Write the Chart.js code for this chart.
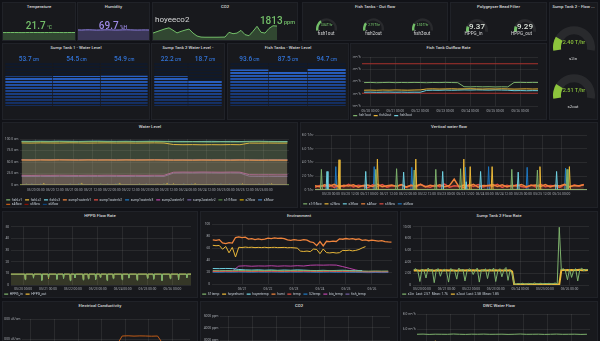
<!DOCTYPE html>
<html><head><meta charset="utf-8">
<script src="https://cdn.jsdelivr.net/npm/chart.js@4.4.1/dist/chart.umd.min.js"></script>
<style>
html,body{margin:0;padding:0;}
body{position:relative;width:600px;height:341px;overflow:hidden;background:#111217;font-family:Roboto,"Noto Sans",Arial,sans-serif;}
.p{position:absolute;background:#18191d;border:1px solid #202228;box-sizing:border-box;}
.t{position:absolute;text-align:center;color:#d8d9da;font-size:4.3px;font-weight:500;white-space:nowrap;line-height:6px;height:6px;overflow:hidden;}
.x{position:absolute;white-space:nowrap;text-align:center;}
canvas{position:absolute;}
</style></head><body>
<script>
function steps(a,d,n){const r=[];for(let i=0;i<n;i++)r.push(a+d*i);return r;}

// ---------------- DATA ----------------
// stat panels
const tempNow='21.7', humNow='69.7', co2Now='1813', co2Name='hoyeeco2';
const tempSpark=[21.5,21.6,21.6,21.7,21.5,21.4,21.6,21.8,21.7,21.6,21.5,21.6,21.7,21.9,21.8,21.6,21.5,21.6,21.7,21.7];
const humSpark=[70.2,69.5,70.8,71.0,70.1,69.2,69.8,70.5,71.2,70.4,69.6,69.9,70.7,71.3,70.6,69.8,69.4,70.0,70.3,69.7];
const co2Spark=[905,1090,1270,1450,1580,1270,920,1120,1280,1420,900,520,380,360,360,360,360,370,380,1000,820,900,1250,700,560,1130,1780,1000,900,1500,1850,1813];
// gauges
const fishOutNames=['fish1out','fish2out','fish3out'], fishOutVals=[3.84,2.79,2.50], fishOutMax=12;
const hppgNames=['HPPG_in','HPPG_out'], hppgVals=[9.37,9.29], hppgMax=60;
const s2Names=['s2in','s2out'], s2Vals=[2.40,2.51], s2Max=12;
// bar gauges
const sump1Names=['sump1waterlv1','sump1waterlv2','sump1waterlv3'], sump1Vals=[53.7,54.5,54.9], sump1Max=78;
const sump2Names=['sump2waterlv1','sump2waterlv2'], sump2Vals=[22.2,18.7], sump2Max=32;
const fishLvNames=['fishLv1','fishLv2','fishLv3'], fishLvVals=[93.6,87.5,94.7], fishLvMax=110;

// Water level (hours from 05/20 00:00)
const wlT=steps(-9,6,29);
const fishLv1=[94.2,94.0,94.3,94.1,94.4,94.2,94.0,94.3,94.5,94.2,94.1,94.3,94.0,94.2,94.4,94.1,93.8,93.6,93.9,93.7,93.5,93.8,93.6,93.7,94.1,94.3,94.0,93.8,93.6];
const fishLv2=[91.5,91.2,91.6,91.4,91.3,91.7,91.5,91.2,91.4,91.6,91.3,91.5,91.2,91.4,91.6,91.3,88.0,87.6,87.8,87.4,87.7,87.5,87.9,87.6,91.2,91.0,91.3,91.1,91.2];
const fishLv3=[95.0,94.8,95.1,94.9,95.2,95.0,94.8,95.1,95.3,95.0,94.9,95.1,94.8,95.0,95.2,94.9,94.6,94.8,94.5,94.7,94.9,94.6,94.8,94.5,94.9,95.1,94.8,94.6,94.7];
const sump1lv1=[54.2,54.0,54.3,54.1,54.4,54.2,54.0,54.3,54.1,54.2,54.0,54.3,54.1,54.2,54.4,54.1,53.9,54.0,53.8,54.1,53.9,54.0,53.8,54.1,53.9,53.7,53.9,53.8,53.7];
const sump1lv2=[54.8,54.6,54.9,54.7,55.0,54.8,54.6,54.9,54.7,54.8,54.6,54.9,54.7,54.8,55.0,54.7,54.5,54.6,54.4,54.7,54.5,54.6,54.4,54.7,54.5,54.3,54.5,54.6,54.5];
const sump1lv3=[55.2,55.0,55.3,55.1,55.4,55.2,55.0,55.3,55.1,55.2,55.0,55.3,55.1,55.2,55.4,55.1,54.9,55.0,54.8,55.1,54.9,55.0,54.8,55.1,54.9,54.7,54.9,55.0,54.9];
const sump2lv1=[21.0,20.8,21.1,20.9,21.2,21.0,20.8,21.1,20.9,21.2,21.0,20.8,21.1,20.9,21.2,21.0,27.8,28.1,27.9,28.2,28.0,27.8,28.1,27.9,22.4,22.1,22.3,22.0,22.2];
const sump2lv2=[18.6,18.4,18.7,18.5,18.8,18.6,18.4,18.7,18.5,18.8,18.6,18.4,18.7,18.5,18.8,18.6,25.9,26.2,26.0,26.3,26.1,25.9,26.2,26.0,18.9,18.6,18.8,18.5,18.7];

// Vertical water flow (pump pulses)
const s1f1T=[-10,-6.6,-6,-5.4,27.4,28,28.6,40.4,41,41.6,51.4,52,52.6,64.9,65.5,66.1,80.4,81,81.6,112.4,113,113.6,128.4,129,129.6,146.9,147.5,148.1,160];
const s1f1V=[0,0,3.0,0,0,3.0,0,0,3.1,0,0,2.9,0,0,3.0,0,0,3.1,0,0,3.0,0,0,2.9,0,0,3.0,0,0];
const s2fT=[-10,4.4,5,5.6,28.4,29,29.6,52.4,53,53.6,82.4,83,83.6,86.4,87,87.6,100.1,100.7,101.3,130,130.6,131.2,148.4,149,149.6,160];
const s2fV=[0,0,4.4,0,0,4.5,0,0,4.5,0,0,4.5,0,0,3.4,0,0,3.4,0,0,3.4,0,0,3.4,0,0];
const s3fT=[-10,-3.1,-2.5,-1.9,21.1,21.7,22.3,44.8,45.4,46,69.2,69.8,70.4,83.9,84.5,85.1,92.9,93.5,94.1,116.4,117,117.6,140.4,141,141.6,160];
const s3fV=[0,0,2.7,0,0,2.7,0,0,2.6,0,0,2.7,0,0,1.2,0,0,2.7,0,0,2.6,0,0,2.7,0,0];
const s6fT=[-10,2.4,3,3.6,26.4,27,27.6,49.9,50.5,51.1,83.4,84,84.6,97.9,98.5,99.1,122,122.6,123.2,146,146.6,147.2,160];
const s6fV=[0,0,3.4,0,0,3.4,0,0,3.3,0,0,3.3,0,0,3.4,0,0,3.3,0,0,3.2,0,0];
const s45T=steps(-10,3,57);
const s4flow=[0.62,0.48,0.75,0.55,0.81,0.44,0.69,0.58,0.77,0.41,0.66,0.73,0.52,0.84,0.47,0.63,0.71,0.50,0.79,0.45,0.68,0.60,0.82,0.43,0.70,0.55,0.76,0.49,0.64,1.60,0.46,0.72,0.57,0.83,0.42,0.67,0.61,0.78,0.50,0.74,0.44,0.69,0.59,0.81,0.47,0.65,0.72,0.53,0.79,0.45,0.70,0.58,0.84,0.48,0.66,0.62,0.75];
const s5flow=[0.41,0.66,0.52,0.78,0.38,0.71,0.49,0.83,0.44,0.68,0.57,0.35,0.74,0.51,0.80,0.40,0.63,0.55,0.77,0.37,0.69,0.46,0.81,0.53,0.39,0.72,0.48,0.85,0.42,0.61,0.56,0.36,0.75,0.50,0.79,0.43,0.67,0.54,0.82,0.38,0.70,0.47,0.76,0.52,0.40,0.73,0.45,0.84,0.49,0.64,0.58,0.37,0.78,0.44,0.71,0.55,0.80];

// Fish tank outflow rate
const foT=steps(-6,6,29);
const fish1out=[3.82,3.85,3.80,3.83,3.86,3.81,3.84,3.82,3.85,3.83,3.80,3.84,3.82,3.86,3.83,3.81,3.15,3.12,3.16,3.13,3.15,3.11,3.14,3.12,3.84,3.86,3.83,3.85,3.84];
const fish2out=[2.58,2.60,2.57,2.61,2.59,2.62,2.60,2.58,2.61,2.63,2.78,2.80,2.77,2.79,2.81,2.78,2.80,2.82,2.79,2.77,2.80,2.78,2.81,2.79,2.76,2.78,2.80,2.77,2.79];
const fish3out=[2.25,2.27,2.24,2.26,2.28,2.25,2.27,2.24,2.26,2.25,2.55,2.58,2.56,2.60,2.57,2.59,2.62,2.60,2.63,2.61,2.59,2.62,2.60,2.58,2.50,2.52,2.49,2.51,2.50];
const outflowHigh=6.9, outflowLow=2.08;

// HPPG flow rate (steady flow with short dips)
const hpT=[-12,1.5,2,2.5,9.5,10,10.5,17.5,18,18.5,24,24.5,25,32,32.6,33.2,38.5,39,39.5,45,45.5,46,49.5,50,50.5,57.5,58,58.5,62.5,63,63.5,69.5,70,70.5,74,74.5,75,80.5,81,81.5,86.5,87,87.5,95,95.5,96,101.5,102,102.5,109.5,110,110.5,119.5,120,120.5,125.5,126,126.5,133.5,134,134.5,141.5,142,142.5,149.5,150,150.5,157.5,158,158.5,162];
const hppgIn=[9.3,9.3,4.5,9.3,9.3,5.8,9.3,9.3,3.9,9.3,9.3,6.2,9.3,9.3,4.8,9.3,9.3,5.5,9.3,9.3,3.6,9.3,9.3,6.0,9.3,9.3,4.2,9.3,9.3,5.1,9.3,9.3,4.6,9.3,9.3,6.4,9.3,9.3,3.8,9.3,9.3,5.3,9.3,9.3,4.4,9.3,9.3,5.9,9.3,9.3,4.1,9.3,9.3,5.6,9.3,9.3,4.9,9.3,9.3,3.7,9.3,9.3,5.2,9.3,9.3,4.5,9.3,9.3,6.1,9.3,9.37];
const hppgOut=[9.29,9.29,5.0,9.29,9.29,6.3,9.29,9.29,4.6,9.29,9.29,5.7,9.29,9.29,5.4,9.29,9.29,6.1,9.29,9.29,4.3,9.29,9.29,6.6,9.29,9.29,5.0,9.29,9.29,5.8,9.29,9.29,5.2,9.29,9.29,6.8,9.29,9.29,4.5,9.29,9.29,6.0,9.29,9.29,5.1,9.29,9.29,6.4,9.29,9.29,4.8,9.29,9.29,6.2,9.29,9.29,5.6,9.29,9.29,4.4,9.29,9.29,5.9,9.29,9.29,5.2,9.29,9.29,6.7,9.29,9.29];

// Environment
const envT3=steps(-3,3,56), envT6=steps(-3,6,28);
const humi=[73.5,72.8,73.9,68.5,67.2,69.0,68.1,77.5,78.6,77.2,78.0,74.8,75.6,74.1,75.2,73.9,74.7,76.3,75.5,76.8,75.9,76.5,75.7,73.4,72.8,73.9,73.1,72.6,73.8,73.0,70.4,69.2,64.0,70.8,63.5,71.2,70.5,71.6,70.9,75.3,74.6,75.8,74.9,75.5,74.2,75.1,72.7,73.4,72.1,73.0,72.4,71.5,72.2,70.8,70.1,69.8];
const hoyeehumi=[64.5,63.8,64.2,58.0,62.5,52.0,61.0,45.0,61.2,60.8,61.5,60.9,61.3,60.6,61.0,60.7,61.2,60.5,60.9,61.1,60.6,60.8,61.0,60.4,60.7,60.3,59.8,54.8,54.2,54.9,54.0,58.2,57.6,50.5,58.4,52.3,51.8,52.5,51.6,52.2,56.1,55.6,56.4,55.2,56.0,57.5,60.2,62.3];
const s1temp=[22.3,22.1,22.4,22.2,22.5,22.3,22.1,22.4,22.2,22.6,22.3,22.1,22.4,22.2,22.5,22.3,22.0,22.2,22.4,22.1,22.3,22.0,21.8,21.6,21.4,21.7,21.5,21.6];
const hoyeetemp=[25.8,25.6,25.9,25.7,24.2,23.5,23.2,23.6,23.0,23.4,22.8,23.3,22.9,23.5,23.1,22.6,22.4,22.8,22.3,22.6,22.9,22.5,22.2,22.4];
const tempC=[21.0,20.9,21.1,21.0,21.2,21.0,20.8,21.1,20.9,21.2,21.0,20.8,21.1,20.9,21.2,21.0,20.7,20.9,21.1,20.8,21.0,20.7,20.5,20.3,20.1,20.4,20.2,20.3];
const s2temp=[19.8,19.6,19.9,19.7,20.0,19.8,19.6,19.9,19.7,20.0,19.8,19.6,19.9,19.7,20.0,19.8,19.5,19.7,19.9,19.6,19.8,19.5,19.3,19.1,18.9,19.2,19.0,19.1];
const bioTemp=[21.6,21.4,21.7,21.5,29.8,30.3,29.6,30.1,29.9,30.4,29.7,30.2,29.8,30.5,30.0,31.3,31.6,31.4,31.7,31.5,29.0,26.2,23.4,21.0,20.4,20.6,20.3,20.5];
const fishTemp=[20.4,20.3,20.5,20.4,20.6,20.4,20.3,20.5,20.4,20.6,20.4,20.3,20.5,20.4,20.6,20.4,20.2,20.4,20.5,20.3,20.4,20.2,20.0,19.9,19.8,20.0,19.9,20.0];

// Sump tank 2 flow rate
const sfT=steps(-8,2,86);
const s2in=[2.6,2.8,2.4,0.6,2.7,2.5,1.2,2.9,2.4,2.7,0.4,2.6,2.8,1.5,2.5,2.7,2.3,0.5,2.8,2.6,2.4,1.0,2.9,2.5,2.7,0.7,2.4,2.8,2.6,1.8,2.5,2.9,0.5,2.6,2.4,2.8,1.1,2.7,2.5,2.9,0.6,2.4,2.8,1.4,2.6,3.0,0.8,2.5,1.9,0.2,0.15,0.25,0.18,0.3,0.2,0.15,0.28,0.2,0.22,0.35,0.18,0.25,0.3,0.2,0.27,0.22,0.3,0.18,0.25,0.33,0.2,9.9,2.6,2.8,2.4,0.9,2.7,1.3,2.5,2.8,0.7,2.6,2.9,2.4,2.7,2.57];
const s2out=[2.48,2.52,2.5,2.46,2.53,2.49,2.51,2.47,2.52,2.5,2.46,2.51,2.49,2.53,2.48,2.5,2.52,2.47,2.51,2.49,2.5,2.46,2.53,2.48,2.51,2.49,2.52,2.47,2.5,2.53,2.48,2.51,2.46,2.5,2.52,2.49,2.47,2.53,2.5,2.48,2.51,2.49,2.52,2.47,2.5,2.53,2.48,2.51,2.3,0.12,0.1,0.11,0.09,0.12,0.1,0.11,0.1,0.12,0.09,0.1,0.11,0.1,0.12,0.09,0.1,0.11,0.1,0.12,0.1,0.11,0.1,0.12,2.55,2.6,2.52,2.57,2.54,2.59,2.53,2.58,2.56,2.6,2.54,2.58,2.55,2.58];
const s2inLegend='s2in  Last: 2.57  Mean: 1.76', s2outLegend='s2out  Last: 2.58  Mean: 1.85';

// Bottom row
const botT=steps(-9,6,29);
const ec1=[1640,1650,1645,1655,1650,1640,1650,1660,1645,1650,1655,1640,1650,1645,1655,1650,1660,2150,2160,2145,2155,2150,2140,2150,1720,1710,1700,1715,1705];
const ec2=[1290,1300,1295,1305,1300,1290,1300,1310,1295,1300,1305,1290,1300,1295,1305,1300,1310,1850,1860,1845,1855,1850,1840,1850,1480,1470,1485,1475,1480];
const ec3=[1200,1210,1205,1195,1200,1210,1205,1200,1195,1205,1200,1210,1205,1200,1195,1205,1200,1210,1205,1200,1195,1205,1200,1420,1430,1425,1420,1430,1425];
const co2Hist=[780,880,1020,1380,1580,1270,920,1120,1300,860,520,380,360,360,370,380,1000,820,1250,700,560,1130,1780,1000,900,1500,1850,1700,1813];
const dwc1=[5.3,5.32,5.28,5.31,5.3,5.29,5.33,5.3,5.28,5.31,5.3,5.32,5.29,5.3,5.31,5.28,5.3,5.33,5.29,5.3,5.31,5.28,5.3,5.32,5.29,5.3,5.31,5.28,5.3];
const dwc2=[3.9,3.95,3.9,4.4,3.92,3.9,3.88,3.93,3.9,3.91,3.89,3.92,3.9,3.88,3.91,3.9,3.93,3.89,3.9,3.92,3.7,3.68,3.72,3.7,3.69,3.71,3.7,3.68,3.7];
const dwc3=[3.5,3.52,3.48,3.51,3.5,3.49,3.53,3.5,3.48,3.51,3.5,3.52,3.49,3.5,3.51,3.48,3.5,3.53,3.49,3.5,3.95,3.98,3.96,3.97,3.95,3.99,3.96,3.97,3.96];

// ---------------- RENDERING ----------------
Chart.defaults.font.family='Roboto, "Noto Sans", Arial, sans-serif';
const P={green:'#7EB26D',yellow:'#EAB839',lblue:'#6ED0E0',orange:'#EF843C',red:'#E24D42',blue:'#1F78C1',magenta:'#BA43A9',purple:'#705DA0',dgreen:'#508642',dyellow:'#CCA300',dblue:'#447EBC',dorange:'#C15C17',dred:'#890F02',navy:'#0A437C'};
const GRID='rgba(255,255,255,0.075)', TICK='#a3a7ad', FS=3.3;
function rgba(h,a){const n=parseInt(h.slice(1),16);return 'rgba('+(n>>16)+','+((n>>8)&255)+','+(n&255)+','+a+')';}
function el(tag,cls,l,t,w,h,html,st){const e=document.createElement(tag);if(cls)e.className=cls;Object.assign(e.style,{left:l+'px',top:t+'px'});if(w!=null)e.style.width=w+'px';if(h!=null)e.style.height=h+'px';if(html!=null)e.innerHTML=html;if(st)Object.assign(e.style,st);document.body.appendChild(e);return e;}
function mk(b){const c=document.createElement('canvas');c.width=Math.round(b[2]);c.height=Math.round(b[3]);c.style.left=b[0]+'px';c.style.top=b[1]+'px';document.body.appendChild(c);return c;}
function txt(x,y,s,size,color,weight,align){const w=200;let l=x-w/2;let ta='center';if(align==='left'){l=x;ta='left';}if(align==='right'){l=x-w;ta='right';}
  return el('div','x',l,y-size*0.6,w,null,s,{fontSize:size+'px',lineHeight:(size*1.2)+'px',color,fontWeight:weight||400,textAlign:ta});}

// panels
const panels=[
 ['Temperature',2,2,74,39],['Humidity',77,2,73,39],['CO2',152,2,146,39],['Fish Tanks - Out flow',302,2,146,39],
 ['Polygeyser Bead Filter',450,2,97,39],['Sump Tank 2 - Flow ...',549,2,49,118],
 ['Sump Tank 1 - Water Level',2,43,148,77],['Sump Tank 2 Water Level -',151,43,74,77],['Fish Tanks - Water Level',227,43,122,77],['Fish Tank Outflow Rate',350,43,197,77],
 ['Water Level',2,122,296,86],['Vertical water flow',300,122,298,86],
 ['HPPG Flow Rate',2,211,196,87],['Environment',200,211,198,87],['Sump Tank 2 Flow Rate',400,211,198,87],
 ['Electrical Conductivity',2,301,196,60],['CO2',200,301,198,60],['DWC Water Flow',400,301,198,60]];
panels.forEach(p=>{el('div','p',p[1],p[2],p[3],p[4]);el('div','t',p[1],p[2]+1.5,p[3],null,p[0]);});

// stat panels
function spark(b,vals,max,line,fill){const c=mk(b);new Chart(c,{type:'line',data:{labels:vals.map((_,i)=>i),datasets:[{data:vals,borderColor:line,backgroundColor:fill,fill:'origin',borderWidth:1,pointRadius:0,tension:0}]},options:{responsive:false,animation:false,devicePixelRatio:1,events:[],plugins:{legend:{display:false},tooltip:{enabled:false}},scales:{x:{display:false},y:{display:false,min:0,max}}}});}
spark([3,27,72,13],tempSpark,37.6,'#73BF69','rgba(115,191,105,0.28)');
spark([78,27,71,13],humSpark,90.5,'#8e7fe0','rgba(142,127,224,0.3)');
spark([153,25,124,15],co2Spark,1950,'#73BF69','rgba(115,191,105,0.28)');
txt(39,26,tempNow+'<span style="font-size:5px"> °C</span>',10,'#73BF69',500);
txt(113,26,humNow+'<span style="font-size:5px"> %H</span>',10,'#9d8ae6',500);
txt(155,19.5,co2Name,8,'#d8d9da',400,'left');
txt(295,20.5,co2Now+'<span style="font-size:5.5px"> ppm</span>',10,'#73BF69',500,'right');

// gauges
function gauge(cx,cy,r,thick,val,max,color){const c=mk([cx-r,cy-r,2*r,Math.ceil(r*1.18)]);
 new Chart(c,{type:'doughnut',data:{datasets:[{data:[val,max-val],backgroundColor:[color,'rgba(255,255,255,0.075)'],borderWidth:0}]},
 options:{responsive:false,animation:false,devicePixelRatio:1,events:[],rotation:-100,circumference:200,cutout:Math.round(100*(1-thick/r))+'%',plugins:{legend:{display:false},tooltip:{enabled:false}}}});}
const fishCx=[326.7,374,422.5];
fishOutNames.forEach((n,i)=>{gauge(fishCx[i],28.5,10.7,2.5,fishOutVals[i],fishOutMax,'#73BF69');txt(fishCx[i],26,fishOutVals[i].toFixed(2)+' T/hr',2.8,'#73BF69',500);txt(fishCx[i]-0.5,33.5,n,4.6,'#d8d9da');});
const hpCx=[476.5,524.5];
hppgNames.forEach((n,i)=>{gauge(hpCx[i],29.5,11,3,hppgVals[i],hppgMax,'#73BF69');txt(hpCx[i]+0.5,26.5,hppgVals[i].toFixed(2),8,'#dfe6dd',500);txt(hpCx[i]-3,33.5,n,4.6,'#d8d9da');});
const s2Cy=[47,95];
s2Names.forEach((n,i)=>{gauge(574,s2Cy[i],21,8,s2Vals[i],s2Max,'#8cc43c');txt(574,s2Cy[i]-4.3,s2Vals[i].toFixed(2)+' T/hr',5.5,'#8cc43c',500);txt(573,s2Cy[i]+11.3,n,4.4,'#d8d9da');});

// bar gauges (LCD)
function barGauge(b,names,vals,max,pad){const c=mk(b);
 const lit=(ctx)=>{const ch=ctx.chart,a=ch.chartArea;if(!a)return '#2458b0';const y=ch.scales.y.getPixelForValue(ctx.raw);const g=ch.ctx.createLinearGradient(0,y,0,a.bottom);g.addColorStop(0,'#2a62c6');g.addColorStop(0.45,'#1c4591');g.addColorStop(1,'#132a58');return g;};
 new Chart(c,{type:'bar',data:{labels:names,datasets:[
  {data:vals,backgroundColor:lit,grouped:false,order:0,barPercentage:1,categoryPercentage:0.985,borderWidth:0},
  {data:names.map(()=>max),backgroundColor:'#10192a',grouped:false,order:1,barPercentage:1,categoryPercentage:0.985,borderWidth:0}]},
  options:{responsive:false,animation:false,devicePixelRatio:1,events:[],layout:{padding:pad},plugins:{legend:{display:false},tooltip:{enabled:false}},
   scales:{x:{afterFit:s=>{s.height=13},ticks:{padding:4.8,color:'#c7d0d9',font:{size:FS}},grid:{display:false},border:{display:false}},y:{display:false,min:0,max}}},
  plugins:[{id:'lcd',afterDatasetsDraw(ch){const a=ch.chartArea,x=ch.ctx;x.save();x.fillStyle='#18191d';
    for(let y=Math.round(a.top)+2;y<a.bottom;y+=3)x.fillRect(a.left,y,a.right-a.left,1);
    const m=ch.getDatasetMeta(0);x.fillStyle='#3274D9';x.textBaseline='alphabetic';
    m.data.forEach((bar,i)=>{const num=vals[i].toFixed(1),unit=' cm';x.font='500 6.5px Roboto';const w1=x.measureText(num).width;x.font='500 4.5px Roboto';const w2=x.measureText(unit).width;const sx=bar.x-(w1+w2)/2;
      x.font='500 6.5px Roboto';x.fillText(num,sx,a.top-2.3);x.font='500 4.5px Roboto';x.fillText(unit,sx+w1,a.top-2.3);});
    x.restore();}}]});}
barGauge([2,50,148,69],sump1Names,sump1Vals,sump1Max,{left:3,right:2,top:13,bottom:0});
barGauge([151,50,74,69],sump2Names,sump2Vals,sump2Max,{left:3,right:3,top:13,bottom:0});
barGauge([227,50,122,69],fishLvNames,fishLvVals,fishLvMax,{left:3,right:3,top:13,bottom:0});

// time series
const p2=n=>String(n).padStart(2,'0');
const fmtDT=h=>'05/'+(20+Math.floor(h/24))+' '+p2(((h%24)+24)%24)+':00';
const fmtD=h=>'05/'+(20+Math.floor(h/24));
function ds(label,color,ts,vs,o){return Object.assign({label,data:vs.map((v,i)=>({x:ts[i],y:v})),borderColor:color,backgroundColor:rgba(color,0.1),fill:false,borderWidth:1,pointRadius:0,tension:0},o||{});}
const F={fill:'origin'};
function tchart(b,o){const c=mk(b);const near=(v,s)=>Math.abs(v/s-Math.round(v/s))<1e-6;
 return new Chart(c,{type:'line',data:{datasets:o.datasets},options:{responsive:false,animation:false,devicePixelRatio:1,events:[],
  layout:{padding:o.pad},
  plugins:{tooltip:{enabled:false},legend:{display:true,position:'bottom',align:'start',maxHeight:o.lh||6,
   labels:{boxWidth:4,boxHeight:1.2,padding:1.2,color:'#c7d0d9',font:{size:FS},
    generateLabels:ch=>ch.data.datasets.map((d,i)=>({text:d.label+'\u2002',fillStyle:d.borderColor,strokeStyle:d.borderColor,lineWidth:0,hidden:false,datasetIndex:i,fontColor:'#c7d0d9'})).filter(l=>l.text[0]!=='_')}}},
  scales:{
   x:{type:'linear',min:o.xmin,max:o.xmax,afterFit:s=>{s.height=o.xh;},afterBuildTicks:s=>{s.ticks=s.ticks.filter(t=>near(t.value,o.xstep));},
     ticks:{stepSize:o.xstep,autoSkip:false,maxRotation:0,padding:o.tp||2.4,color:TICK,font:{size:FS},callback:v=>o.xfmt(v)},grid:{color:GRID,drawTicks:false},border:{display:false}},
   y:{min:o.ymin,max:o.ymax,afterFit:s=>{s.width=o.yw;},afterBuildTicks:s=>{s.ticks=s.ticks.filter(t=>near(t.value,o.ystep));},
     ticks:{stepSize:o.ystep,padding:1.5,color:TICK,font:{size:FS},callback:v=>o.yfmt(v)},grid:{color:GRID,drawTicks:false},border:{display:false}}}}});}

tchart([2,130,296,78],{pad:{left:3,right:9,top:9,bottom:0.5},yw:15,xh:12,tp:3.3,lh:10.5,xmin:-10,xmax:160,xstep:12,xfmt:fmtDT,ymin:0,ymax:100,ystep:25,yfmt:v=>v===0?'0 cm':v.toFixed(1)+' cm',
 datasets:[ds('fishLv1',P.green,wlT,fishLv1,F),ds('fishLv2',P.yellow,wlT,fishLv2,F),ds('fishLv3',P.lblue,wlT,fishLv3,F),
  ds('sump1waterlv1',P.orange,wlT,sump1lv1,F),ds('sump1waterlv2',P.red,wlT,sump1lv2,F),ds('sump1waterlv3',P.blue,wlT,sump1lv3,F),
  ds('sump2waterlv1',P.magenta,wlT,sump2lv1,F),ds('sump2waterlv2',P.purple,wlT,sump2lv2,F),
  ds('s1f1flow',P.dgreen,s1f1T,s1f1V,F),ds('s2flow',P.dyellow,s2fT,s2fV,F),ds('s3flow',P.dblue,s3fT,s3fV,F),ds('s4flow',P.dorange,s45T,s4flow,F),ds('s5flow',P.dred,s45T,s5flow,F),ds('s6flow',P.navy,s6fT,s6fV,F)]});

tchart([300,127,298,81],{pad:{left:2,right:11,top:8,bottom:1},yw:13,xh:11,tp:2.4,lh:6,xmin:-10,xmax:160,xstep:12,xfmt:fmtDT,ymin:0,ymax:8,ystep:2,yfmt:v=>v===0?'0 T/hr':v.toFixed(1)+' T/hr',
 datasets:[ds('s1f1flow',P.green,s1f1T,s1f1V,F),ds('s2flow',P.yellow,s2fT,s2fV,F),ds('s3flow',P.lblue,s3fT,s3fV,F),ds('s4flow',P.orange,s45T,s4flow,Object.assign({borderWidth:1.5},F)),ds('s5flow',P.red,s45T,s5flow,Object.assign({borderWidth:1.5},F)),ds('s6flow',P.blue,s6fT,s6fV,F)]});

tchart([350,50,197,70],{pad:{left:2,right:9,top:7,bottom:1.3},yw:10,xh:6.7,tp:3.3,lh:6,xmin:-8,xmax:161,xstep:24,xfmt:fmtDT,ymin:0,ymax:8,ystep:2,yfmt:v=>v+' m³/h',
 datasets:[ds('fish1out',P.green,foT,fish1out),ds('fish2out',P.yellow,foT,fish2out),ds('fish3out',P.lblue,foT,fish3out),
  ds('_high','#a8322d',[-8,161],[outflowHigh,outflowHigh]),ds('_low','#a8322d',[-8,161],[outflowLow,outflowLow])]});

tchart([2,220,196,78],{pad:{left:1,right:7,top:6.7,bottom:0.8},yw:7.7,xh:6.2,tp:2.4,lh:6,xmin:-12,xmax:162,xstep:24,xfmt:fmtDT,ymin:0,ymax:50,ystep:10,yfmt:v=>String(v),
 datasets:[ds('HPPG_in',P.green,hpT,hppgIn,F),ds('HPPG_out',P.yellow,hpT,hppgOut,F)]});

tchart([200,218,198,80],{pad:{left:1,right:6,top:6,bottom:0.8},yw:10.7,xh:7.2,tp:3.3,lh:6,xmin:-4,xmax:162.5,xstep:24,xfmt:fmtD,ymin:0,ymax:100,ystep:20,yfmt:v=>String(v),
 datasets:[ds('S1temp',P.green,envT6,s1temp),ds('hoyeehumi',P.yellow,envT3,hoyeehumi),ds('hoyeetemp',P.lblue,envT6,hoyeetemp),ds('humi',P.orange,envT3,humi,{borderWidth:1.3}),
  ds('temp',P.red,envT6,tempC),ds('S2temp',P.blue,envT6,s2temp),ds('bio_temp',P.magenta,envT6,bioTemp),ds('fish_temp',P.purple,envT6,fishTemp)]});

tchart([400,220,198,78],{pad:{left:1,right:9,top:6.7,bottom:0.8},yw:11.7,xh:6.2,tp:2.4,lh:6,xmin:-9,xmax:163,xstep:24,xfmt:fmtDT,ymin:0,ymax:10,ystep:2,yfmt:v=>v===0?'0':v.toFixed(2),
 datasets:[ds(s2inLegend,P.green,sfT,s2in),ds(s2outLegend,P.yellow,sfT,s2out,{borderWidth:2})]});

tchart([2,313,196,80],{pad:{left:2,right:8,top:6,bottom:1},yw:18,xh:7,lh:6,xmin:-9,xmax:162,xstep:24,xfmt:fmtDT,ymin:0,ymax:3000,ystep:1000,yfmt:v=>v+' uS/cm',
 datasets:[ds('EC1',P.dorange,botT,ec1),ds('EC2',P.yellow,botT,ec2),ds('EC3',P.lblue,botT,ec3)]});
tchart([200,310,198,80],{pad:{left:3,right:8,top:6,bottom:1},yw:17,xh:7,lh:6,xmin:-9,xmax:162,xstep:24,xfmt:fmtDT,ymin:0,ymax:5000,ystep:1000,yfmt:v=>v+' ppm',
 datasets:[ds('hoyeeco2',P.green,botT,co2Hist)]});
tchart([400,308,198,80],{pad:{left:3,right:8,top:6,bottom:1},yw:14,xh:7,lh:6,xmin:-9,xmax:162,xstep:24,xfmt:fmtDT,ymin:0,ymax:8,ystep:2,yfmt:v=>v.toFixed(1)+' m³/h',
 datasets:[ds('dwc1',P.green,botT,dwc1),ds('dwc2',P.yellow,botT,dwc2,F),ds('dwc3',P.blue,botT,dwc3)]});
</script>
</body></html>
